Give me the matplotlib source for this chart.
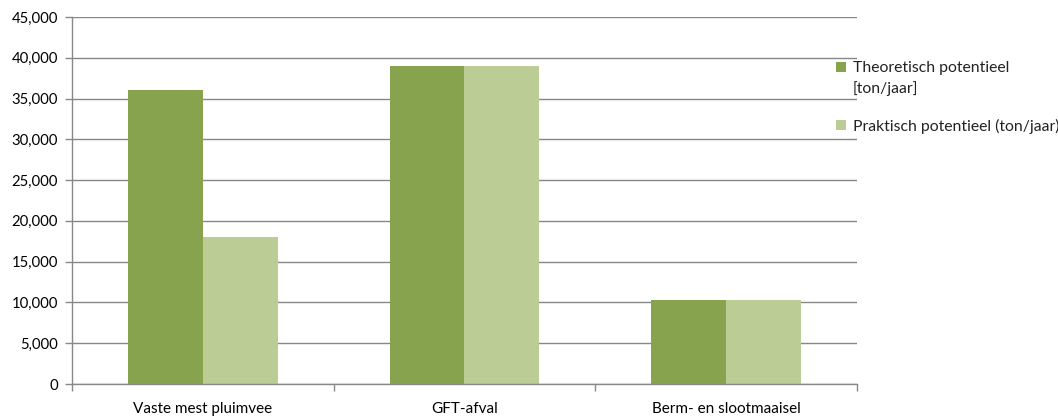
import matplotlib.pyplot as plt
import numpy as np
from matplotlib.patches import Rectangle
from matplotlib.ticker import FuncFormatter, MultipleLocator

categories = ["Vaste mest pluimvee", "GFT-afval", "Berm- en slootmaaisel"]
theoretisch = [36000, 39000, 10300]
praktisch = [18000, 39000, 10300]
series_labels = ["Theoretisch potentieel\n[ton/jaar]", "Praktisch potentieel (ton/jaar)"]
colors = ["#87A34E", "#BBCC95"]

plt.rcParams["font.family"] = ["Lato", "DejaVu Sans"]

W, H = 1058, 418
fig = plt.figure(figsize=(W / 100, H / 100), dpi=100)
ax = fig.add_axes([72 / W, 34 / H, 785 / W, 367 / H])

x = np.arange(len(categories))
w = 1 / 3.5
ax.bar(x - w / 2, theoretisch, w, color=colors[0])
ax.bar(x + w / 2, praktisch, w, color=colors[1])

ax.set_xlim(-0.5, len(categories) - 0.5)
ax.set_ylim(0, 45000)
ax.yaxis.set_major_locator(MultipleLocator(5000))
ax.yaxis.set_major_formatter(FuncFormatter(lambda v, p: f"{int(v):,}"))
ax.grid(axis="y", color="#878787", linewidth=1)
ax.set_axisbelow(True)

for s in ["top", "right"]:
    ax.spines[s].set_visible(False)
for s in ["left", "bottom"]:
    ax.spines[s].set_color("#888888")
    ax.spines[s].set_linewidth(1)

# category labels in the middle, tick marks on the boundaries
ax.set_xticks(x)
ax.set_xticklabels(categories, fontsize=11)
ax.set_xticks(np.arange(len(categories) + 1) - 0.5, minor=True)
ax.tick_params(axis="x", which="major", length=0, pad=13)
ax.tick_params(axis="x", which="minor", length=5, color="#888888", width=1)
ax.tick_params(axis="y", length=5, color="#888888", width=1, pad=5, labelsize=10.7)

# legend on the right, marker next to the first line of each entry
for label, color, y in zip(series_labels, colors, [67, 125]):
    fig.add_artist(Rectangle((836 / W, 1 - (y + 5) / H), 10 / W, 10 / H,
                             transform=fig.transFigure, color=color, lw=0))
    fig.text(853 / W, 1 - (y - 6) / H, label, fontsize=11.3, va="top", ha="left",
             linespacing=1.5, color="#222222")

fig.savefig("out.png", dpi=100)
